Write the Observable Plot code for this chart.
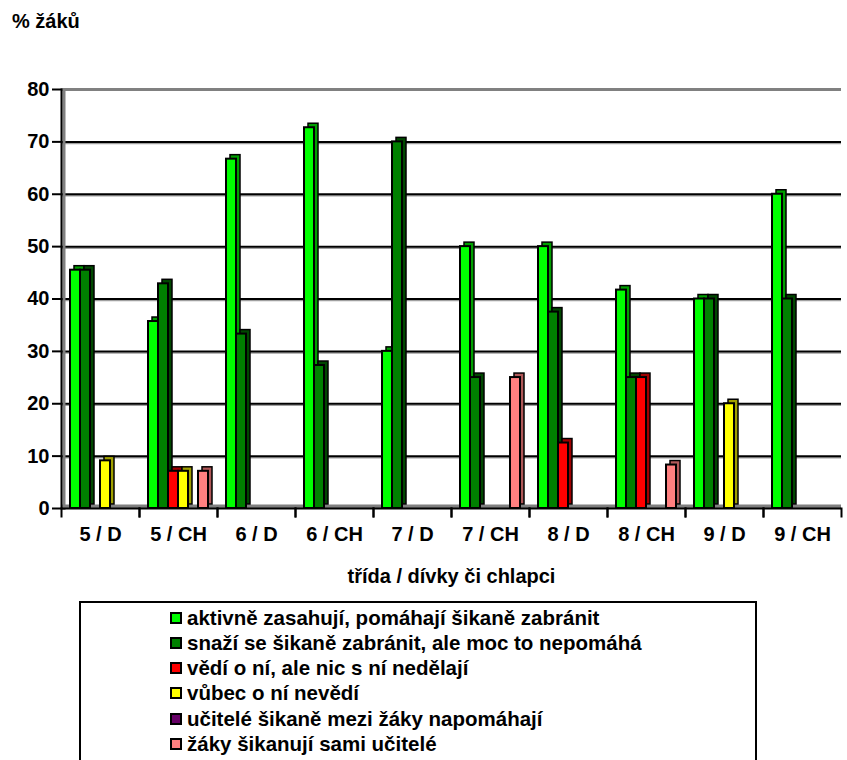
<!DOCTYPE html>
<html><head><meta charset="utf-8">
<script src="https://cdn.jsdelivr.net/npm/d3@7"></script>
<script src="https://cdn.jsdelivr.net/npm/@observablehq/plot@0.6"></script>
<style>
body{margin:0;background:#fff;font-family:Arial,"Liberation Sans",sans-serif;}
#wrap{position:relative;width:847px;height:760px;overflow:hidden;background:#fff;}
#title{position:absolute;left:12px;top:10px;font-weight:bold;font-size:20px;color:#000;}
#chart{position:absolute;left:0;top:60px;}
#legend{position:absolute;left:79px;top:601px;width:678px;height:200px;border:2px solid #000;box-sizing:border-box;}
.item{position:absolute;left:89px;height:25px;display:flex;align-items:center;font-weight:bold;font-size:20.5px;white-space:nowrap;color:#000;}
.sw{width:8px;height:8px;border:2px solid #000;margin-right:5px;flex:none;}
</style></head>
<body><div id="wrap">
<div id="title">% žáků</div>
<div id="chart"></div>
<div id="legend"></div>
</div>
<script>
const categories = ["5 / D","5 / CH","6 / D","6 / CH","7 / D","7 / CH","8 / D","8 / CH","9 / D","9 / CH"];
const seriesNames = [
  "aktivně zasahují, pomáhají šikaně zabránit",
  "snaží se šikaně zabránit, ale moc to nepomáhá",
  "vědí o ní, ale nic s ní nedělají",
  "vůbec o ní nevědí",
  "učitelé šikaně mezi žáky napomáhají",
  "žáky šikanují sami učitelé"
];
const activeHelp    = [45.5, 35.7, 66.7, 72.7, 30, 50, 50, 41.7, 40, 60];
const tryHelp       = [45.5, 42.9, 33.3, 27.3, 70, 25, 37.5, 25, 40, 40];
const knowNothing   = [0, 7.1, 0, 0, 0, 0, 12.5, 25, 0, 0];
const unaware       = [9.1, 7.1, 0, 0, 0, 0, 0, 0, 20, 0];
const teachersHelp  = [0, 0, 0, 0, 0, 0, 0, 0, 0, 0];
const teachersBully = [0, 7.1, 0, 0, 0, 25, 0, 8.3, 0, 0];
const yTicks = [0, 10, 20, 30, 40, 50, 60, 70, 80];
const gridValues = [10, 20, 30, 40, 50, 60, 70];
const colors = ["#00ff00", "#008000", "#ff0000", "#ffff00", "#660066", "#ff8080"];
const sideColors = ["#00a000", "#004800", "#a00000", "#a0a000", "#380038", "#b05858"];
const xTitle = "třída / dívky či chlapci";

const seriesValues = [activeHelp, tryHelp, knowNothing, unaware, teachersHelp, teachersBully];
const rows = [];
categories.forEach((c, ci) => seriesValues.forEach((vals, si) => rows.push({cat: c, series: seriesNames[si], si, value: vals[ci]})));

const font = 'Arial, "Liberation Sans", sans-serif';
const chart = Plot.plot({
  width: 847, height: 530,
  marginTop: 29, marginBottom: 82, marginLeft: 57, marginRight: 2,
  style: {fontFamily: font, fontSize: "20px", fontWeight: "bold", color: "#000", background: "#fff"},
  fx: {domain: categories, padding: 0},
  x: {domain: seriesNames, axis: null, paddingInner: 0, paddingOuter: 0.6},
  y: {domain: [0, 80]},
  marks: [
    Plot.ruleY(gridValues, {stroke: "#a0a0a0", strokeWidth: 1.5, dy: 1.5}),
    Plot.ruleY(gridValues, {stroke: "#000", strokeWidth: 2}),
    Plot.ruleY([80], {stroke: "#808080", strokeWidth: 3}),
    Plot.ruleY([0], {stroke: "#808080", strokeWidth: 4, dy: -2}),
    Plot.frame({anchor: "left", facet: "super", stroke: "#808080", strokeWidth: 3, dx: 2.5}),
    Plot.ruleY([0], {stroke: "#000", strokeWidth: 2}),
    Plot.barY(rows, {fx: "cat", x: "series", y: "value", fill: d => sideColors[d.si], stroke: "#000", strokeWidth: 1.5, dx: 4, dy: -4}),
    Plot.barY(rows, {fx: "cat", x: "series", y: "value", fill: d => colors[d.si], stroke: "#000", strokeWidth: 2}),
    Plot.frame({anchor: "left", facet: "super", stroke: "#000", strokeWidth: 2}),
    Plot.frame({anchor: "left", stroke: "#000", strokeWidth: 2, insetTop: 419, insetBottom: -8}),
    Plot.frame({anchor: "right", stroke: "#000", strokeWidth: 2, insetTop: 419, insetBottom: -8}),
    Plot.axisY({ticks: yTicks, tickSize: 9, tickPadding: 3, stroke: "#000", strokeWidth: 2, label: null, fontSize: 20, fontWeight: "bold"}),
    Plot.axisFx({anchor: "bottom", tickSize: 0, tickPadding: 18, label: xTitle, labelAnchor: "center", labelOffset: 74, fontSize: 20, fontWeight: "bold"})
  ]
});
document.getElementById("chart").appendChild(chart);

const legend = document.getElementById("legend");
seriesNames.forEach((name, i) => {
  const item = document.createElement("div");
  item.className = "item";
  item.style.top = (2 + i * 25.3) + "px";
  const sw = document.createElement("span");
  sw.className = "sw";
  sw.style.background = colors[i];
  const tx = document.createElement("span");
  tx.textContent = name;
  item.appendChild(sw); item.appendChild(tx);
  legend.appendChild(item);
});
</script>
</body></html>
